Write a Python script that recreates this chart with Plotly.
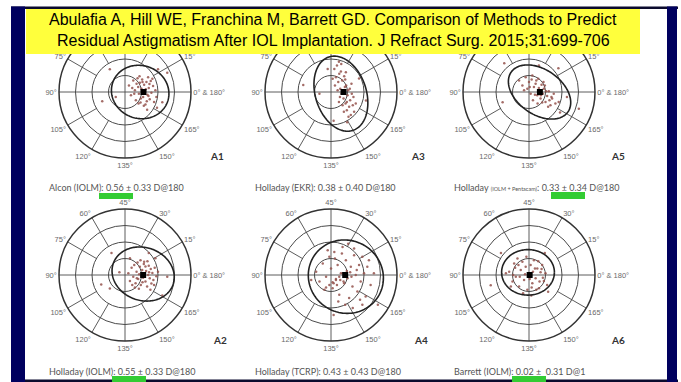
import numpy as np
import plotly.graph_objects as go

W, H = 681, 382

TITLE_LINES = [
    "Abulafia A, Hill WE, Franchina M, Barrett GD. Comparison of Methods to Predict",
    "Residual Astigmatism After IOL Implantation. J Refract Surg. 2015;31:699-706",
]

ANGLE_TICKVALS = [0, 30, 60, 90, 120, 150, 180, 210, 240, 270, 300, 330]
ANGLE_TICKTEXT = ["0° & 180°", "15°", "30°", "45°", "60°", "75°", "90°",
                  "105°", "120°", "135°", "150°", "165°"]
# top-row labels lying under the title banner (not visible in the slide)
HIDDEN_TOP_TICKS = ["30°", "45°", "60°"]
RING_VALUES = [0.5, 1.0, 1.5]
R_MAX = 2.0
SPOKE_ANGLES = [30, 60, 120, 150, 210, 240, 300, 330]
SPOKE_INNER = 1.0
AXIS_ANGLES = [0, 90]

PANELS = ["A1", "A3", "A5", "A2", "A4", "A6"]
TOP_ROW = ["A1", "A3", "A5"]
CAPTIONS = {
    "A1": "Alcon (IOLM): 0.56 ± 0.33 D@180",
    "A3": "Holladay (EKR): 0.38 ± 0.40 D@180",
    "A5": "Holladay <span style='font-size:5.5px'>(IOLM + Pentacam)</span>: 0.33 ± 0.34 D@180",
    "A2": "Holladay (IOLM): 0.55 ± 0.33 D@180",
    "A4": "Holladay (TCRP): 0.43 ± 0.43 D@180",
    "A6": "Barrett (IOLM): 0.02 ±  0.31 D@1",
}
MEAN_D = {"A1": 0.56, "A3": 0.38, "A5": 0.33, "A2": 0.55, "A4": 0.43, "A6": 0.02}
MEAN_AXIS = {"A1": 180, "A3": 180, "A5": 180, "A2": 180, "A4": 180, "A6": 1}

# prediction-error points (double-angle x / y, dioptres)
X_A1 = [0.12, 0.18, 0.25, 0.30, 0.33, 0.38, 0.40, 0.42, 0.45, 0.47, 0.50, 0.52, 0.55, 0.58, 0.60,
        0.62, 0.65, 0.68, 0.70, 0.72, 0.75, 0.78, 0.80, 0.85, 0.88, 0.92, 0.35, 0.44, 0.57, 0.63,
        0.71, 0.48, 0.28, 0.83, 0.66, 0.53, 0.41, 0.74, 0.95, 0.22,
        -0.46, -0.69, -0.28, 1.28, 1.00, 1.13, 0.67, 0.97]
Y_A1 = [0.20, -0.10, 0.35, 0.05, -0.25, 0.42, 0.15, -0.05, 0.28, -0.32, 0.10, 0.38, -0.15, 0.22, 0.02,
        -0.38, 0.30, -0.08, 0.45, 0.12, -0.22, 0.33, -0.02, 0.18, -0.30, 0.05, 0.25, 0.48, -0.42, 0.08,
        -0.12, -0.20, -0.05, 0.40, -0.28, 0.30, -0.35, 0.24, -0.15, 0.12,
        0.69, -0.28, -0.15, 0.58, 0.69, -0.31, -0.54, -0.48]

X_A2 = [0.10, 0.15, 0.20, 0.25, 0.28, 0.32, 0.35, 0.38, 0.40, 0.43, 0.45, 0.48, 0.50, 0.52, 0.55,
        0.57, 0.60, 0.62, 0.64, 0.67, 0.70, 0.72, 0.75, 0.78, 0.80, 0.83, 0.86, 0.90, 0.95, 1.00,
        0.30, 0.42, 0.58, 0.68, 0.47, 0.36, 0.77, 0.53, 0.62, 0.88, 0.22, 0.73,
        -0.41, -0.72, -0.46, -0.17, 0.92, 1.13, 1.28, 0.72, 0.15]
Y_A2 = [0.05, -0.18, 0.22, -0.05, 0.30, -0.25, 0.10, 0.38, -0.12, 0.02, 0.25, -0.30, -0.02, 0.15, -0.08,
        0.33, 0.04, -0.20, 0.12, -0.35, 0.00, 0.28, -0.10, 0.18, -0.26, 0.06, -0.15, 0.22, -0.04, 0.10,
        -0.38, -0.42, 0.40, 0.42, 0.45, -0.10, -0.45, -0.22, 0.26, -0.30, -0.30, 0.08,
        0.67, -0.29, -0.41, 0.08, 0.51, -0.62, -0.05, 0.67, 0.51]

X_A3 = [0.10, 0.15, 0.18, 0.22, 0.25, 0.28, 0.30, 0.32, 0.34, 0.36, 0.38, 0.40, 0.42, 0.44, 0.46,
        0.48, 0.50, 0.52, 0.55, 0.58, 0.60, 0.63, 0.66, 0.70, 0.20, 0.27, 0.35, 0.45, 0.53, 0.62,
        0.12, 0.39, 0.57, 0.31, 0.48, 0.68, 0.24, 0.43, 0.05, 0.75,
        -0.84, -0.35, 0.24, 1.06, 0.85, 0.08, 0.49, -0.10]
Y_A3 = [0.70, 0.45, 0.80, 0.30, 0.55, 0.10, 0.62, -0.05, 0.35, 0.02, -0.20, 0.48, 0.15, -0.35, 0.20,
        -0.55, -0.10, 0.05, -0.45, -0.25, -0.70, -0.05, -0.40, -0.60, 0.05, -0.15, -0.40, 0.60, -0.75, 0.25,
        0.20, -0.60, 0.10, 0.85, -0.30, -0.15, -0.30, 0.38, 0.40, -0.35,
        0.21, -0.05, 0.92, -0.26, 0.41, -0.87, -0.92, 0.70]

X_A4 = [-0.45, -0.35, -0.25, -0.15, -0.05, 0.00, 0.05, 0.10, 0.15, 0.20, 0.25, 0.30, 0.35, 0.40, 0.45,
        0.50, 0.55, 0.60, 0.65, 0.70, 0.75, 0.80, 0.85, 0.90, 0.95, 1.00, 1.05, 1.10, 1.20, 1.30,
        -0.20, 0.08, 0.28, 0.48, 0.62, 0.18, 0.38, 0.58, 0.78, 0.12, 0.33, 0.52, 0.70, 0.88, -0.10,
        0.22, 0.43, 0.66, 0.95, 1.15, -0.15, -0.05, 0.05, 0.15, 0.25, 0.35,
        0.08, 1.42, -0.60]
Y_A4 = [0.10, -0.20, 0.35, -0.05, 0.55, 0.20, -0.40, 0.70, -0.15, 0.30, -0.60, 0.05, 0.85, -0.25, 0.45,
        -0.10, -0.70, 0.25, -0.35, 0.60, 0.00, -0.50, 0.30, -0.20, 0.55, 0.05, -0.65, 0.25, -0.30, 0.05,
        -0.45, -0.25, -0.15, 0.12, -0.05, -0.30, -0.20, 0.08, 0.15, 0.50, 0.65, 0.95, 0.80, -0.75, 0.75,
        -0.80, -0.90, -1.00, -0.90, 0.45, -0.38, -0.30, -0.22, -0.12, -0.05, 0.05,
        -1.21, -0.90, -0.15]

X_A5 = [-0.30, -0.20, -0.10, -0.05, 0.00, 0.05, 0.10, 0.15, 0.20, 0.25, 0.28, 0.32, 0.35, 0.38, 0.42,
        0.45, 0.50, 0.55, 0.60, 0.65, 0.70, 0.75, 0.80, 0.90, 0.12, 0.22, 0.30, 0.40, 0.48, 0.58,
        -0.15, 0.02, 0.18, 0.36, 0.52, 0.68, 0.26, 0.44, 0.08, 0.62,
        -0.75, -0.80, 0.89, 1.51, 1.15, 0.94, 0.30]
Y_A5 = [0.35, 0.20, 0.45, 0.10, 0.30, -0.05, 0.50, 0.15, 0.25, -0.10, 0.40, 0.05, -0.20, 0.22, -0.05,
        0.10, -0.30, -0.12, 0.02, -0.40, -0.20, -0.05, -0.35, -0.30, -0.25, 0.35, 0.12, -0.32, 0.20, -0.45,
        0.05, 0.15, -0.08, -0.10, 0.02, -0.15, -0.35, 0.30, 0.38, -0.25,
        0.87, -0.31, 0.72, -0.51, -0.15, -0.62, 0.80]

X_A6 = [-0.60, -0.50, -0.45, -0.40, -0.35, -0.30, -0.25, -0.20, -0.15, -0.10, -0.05, 0.00, 0.05, 0.10,
        0.15, 0.20, 0.25, 0.30, 0.35, 0.40, 0.45, 0.50, 0.55, -0.55, -0.28, -0.08, 0.12, 0.32, -0.42,
        -0.18, 0.22, 0.42, -0.32, 0.02, 0.28, -0.12, 0.08, 0.38, -0.48, 0.18,
        -1.16, -0.85, 0.48, 0.58, 0.07, -0.70]
Y_A6 = [0.10, -0.20, 0.35, -0.05, 0.50, -0.35, 0.15, 0.40, -0.15, 0.25, -0.45, 0.05, 0.30, -0.25,
        0.45, -0.10, 0.20, -0.40, 0.08, 0.30, -0.18, 0.05, -0.30, -0.35, -0.05, 0.55, 0.10, -0.20, 0.22,
        -0.55, -0.45, -0.08, 0.30, -0.12, 0.42, 0.02, -0.38, 0.18, 0.00, 0.20,
        -0.31, 0.67, 0.67, -0.51, -0.62, 0.05]

POINTS = {"A1": (X_A1, Y_A1), "A2": (X_A2, Y_A2), "A3": (X_A3, Y_A3),
          "A4": (X_A4, Y_A4), "A5": (X_A5, Y_A5), "A6": (X_A6, Y_A6)}

# 95% ellipses: centre x, centre y, semi-major, semi-minor, tilt (deg)
ELLIPSES = {
    "A1": (0.46, 0.00, 0.88, 0.80, -20),
    "A2": (0.55, 0.03, 0.96, 0.80, -20),
    "A3": (0.30, -0.05, 1.17, 0.77, -72),
    "A4": (0.45, -0.05, 1.15, 1.10, -30),
    "A5": (0.32, 0.00, 1.05, 0.68, -35),
    "A6": (-0.03, 0.08, 0.80, 0.69, 0),
}

# ---------------- layout geometry (pixels) ----------------
CENTERS = {"A1": (125, 92), "A3": (331, 92), "A5": (529, 92),
           "A2": (125, 275), "A4": (331, 275), "A6": (529, 275)}
R_PX = 66
CAPTION_POS = {"A1": (47, 187), "A3": (253, 187), "A5": (452, 187),
               "A2": (47, 371), "A4": (253, 371), "A6": (452, 371)}
LABEL_POS = {"A1": (217, 156), "A3": (418, 156), "A5": (618, 156),
             "A2": (220, 340), "A4": (421, 340), "A6": (618, 340)}
GREEN_BARS = [(99, 133, 193, 199), (551, 585, 192, 199), (112, 146, 376, 382), (512, 546, 376, 382)]


def px(x):
    return x / W


def py(y):
    return 1 - y / H


def to_polar(x, y):
    x = np.asarray(x, float)
    y = np.asarray(y, float)
    return np.hypot(x, y), np.degrees(np.arctan2(y, x))


fig = go.Figure()
layout_polars = {}
GRID = "#4a4a4a"

for i, name in enumerate(PANELS):
    sub = "polar" if i == 0 else f"polar{i + 1}"
    cx, cy = CENTERS[name]
    ticktext = ANGLE_TICKTEXT
    if name in TOP_ROW:
        ticktext = ["" if t in HIDDEN_TOP_TICKS else t for t in ANGLE_TICKTEXT]
    layout_polars[sub] = dict(
        domain=dict(x=[px(cx - R_PX), px(cx + R_PX)], y=[py(cy + R_PX), py(cy - R_PX)]),
        bgcolor="white",
        radialaxis=dict(range=[0, R_MAX], tickmode="array", tickvals=RING_VALUES,
                        showticklabels=False, ticks="", showline=False,
                        gridcolor=GRID, gridwidth=0.9),
        angularaxis=dict(tickmode="array", tickvals=ANGLE_TICKVALS, ticktext=ticktext,
                         direction="counterclockwise", rotation=0, showgrid=False, ticks="",
                         showline=True, linecolor="#333", linewidth=1.5,
                         tickfont=dict(family="Liberation Sans, Arial", size=7.5, color="#6a6a6a")),
    )
    # spokes
    sr, st = [], []
    for a in SPOKE_ANGLES:
        sr += [SPOKE_INNER, R_MAX, None]
        st += [a, a, None]
    for a in AXIS_ANGLES:
        sr += [R_MAX, 0, R_MAX, None]
        st += [a, a, a + 180, None]
    fig.add_trace(go.Scatterpolar(r=sr, theta=st, mode="lines", subplot=sub,
                                  line=dict(color=GRID, width=0.9), hoverinfo="skip",
                                  showlegend=False))
    # points
    xs, ys = POINTS[name]
    r, th = to_polar(xs, ys)
    fig.add_trace(go.Scatterpolar(r=r, theta=th, mode="markers", subplot=sub,
                                  marker=dict(size=2.5, color="#94524c", opacity=0.85),
                                  showlegend=False))
    # ellipse
    ecx, ecy, ea, eb, ephi = ELLIPSES[name]
    t = np.linspace(0, 2 * np.pi, 181)
    phi = np.radians(ephi)
    ex = ecx + ea * np.cos(t) * np.cos(phi) - eb * np.sin(t) * np.sin(phi)
    ey = ecy + ea * np.cos(t) * np.sin(phi) + eb * np.sin(t) * np.cos(phi)
    er, et = to_polar(ex, ey)
    fig.add_trace(go.Scatterpolar(r=er, theta=et, mode="lines", subplot=sub,
                                  line=dict(color="#222", width=1.6), hoverinfo="skip",
                                  showlegend=False))
    # centroid
    fig.add_trace(go.Scatterpolar(r=[MEAN_D[name]], theta=[2 * MEAN_AXIS[name]], mode="markers",
                                  subplot=sub, marker=dict(symbol="square", size=6, color="black"),
                                  showlegend=False))

shapes = []


def rect(x0, x1, y0, y1, color):
    shapes.append(dict(type="rect", xref="paper", yref="paper", x0=px(x0), x1=px(x1),
                       y0=py(y1), y1=py(y0), fillcolor=color, line=dict(width=0), layer="above"))


rect(11, 678, 6.5, 9, "#0b0b2e")
rect(11, 678, 379.5, 382, "#0b0b2e")
rect(11, 25, 6.5, 382, "#00005e")
rect(667, 677, 6.5, 382, "#00005e")
rect(26, 640, 9, 54, "#ffff3c")
for x0, x1, y0, y1 in GREEN_BARS:
    rect(x0, x1, y0, y1, "#33cc33")

annotations = []
for line, y in zip(TITLE_LINES, [20, 40.5]):
    annotations.append(dict(text=line, x=px(333), y=py(y), xref="paper", yref="paper",
                            xanchor="center", yanchor="middle", showarrow=False,
                            font=dict(family="Liberation Sans, Arial", size=16, color="black")))
for name in PANELS:
    x, y = CAPTION_POS[name]
    annotations.append(dict(text=CAPTIONS[name], x=px(x), y=py(y), xref="paper", yref="paper",
                            xanchor="left", yanchor="middle", showarrow=False,
                            font=dict(family="Lato, Noto Sans", size=9, color="#555")))
    x, y = LABEL_POS[name]
    annotations.append(dict(text="<b>" + name + "</b>", x=px(x), y=py(y), xref="paper", yref="paper",
                            xanchor="center", yanchor="middle", showarrow=False,
                            font=dict(family="Lato, Noto Sans", size=10, color="#333")))

fig.update_layout(width=W, height=H, autosize=False, margin=dict(l=0, r=0, t=0, b=0),
                  paper_bgcolor="white", showlegend=False, shapes=shapes,
                  annotations=annotations, dragmode=False, **layout_polars)

fig.write_html("out.html")
